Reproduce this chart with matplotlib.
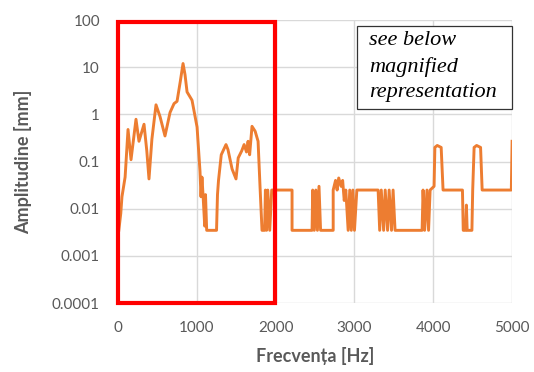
import numpy as np
import matplotlib
matplotlib.use("Agg")
import matplotlib.pyplot as plt
from matplotlib.patches import Rectangle

# frequency [Hz] and amplitude [mm]
H = 0.025   # upper plateau in the 2000-5000 Hz range
L = 0.0035  # lower plateau
freq = [10, 35, 50, 90, 127, 165, 228, 266, 330, 365, 393, 430, 482, 533, 596,
        660, 711, 749, 790, 825, 850, 876, 939, 1003, 1040, 1053, 1065, 1080,
        1100, 1110, 1125, 1250, 1262, 1275, 1310, 1370, 1395, 1447, 1497, 1525,
        1570, 1600, 1630, 1650, 1670, 1700, 1740, 1777, 1802, 1827, 1860, 1870,
        1885, 1900, 1925, 1950, 1970,
        2000, 2208, 2208, 2462, 2470, 2490, 2510, 2530, 2550, 2570, 2730, 2730,
        2760, 2780, 2800, 2830, 2850, 2870, 2890, 2920, 2940, 2960, 2980, 3000,
        3030, 3300, 3320, 3340, 3370, 3390, 3420, 3440, 3470, 3490, 3515, 3858,
        3870, 3890, 3920, 3940, 3960, 4010, 4020, 4050, 4100, 4124, 4370, 4380,
        4410, 4420, 4430, 4490, 4500, 4518, 4550, 4600, 4620, 4990, 5000]
amp = [L, 0.008, 0.018, 0.047, 0.48, 0.11, 0.79, 0.27, 0.62, 0.17, 0.043, 0.3,
       1.6, 0.9, 0.35, 1.1, 1.7, 1.9, 5, 12, 7, 3, 2, 0.54, 0.063, 0.018, 0.047,
       0.018, 0.0043, 0.02, L, L, 0.02, 0.04, 0.14, 0.23, 0.18, 0.07, 0.043,
       0.12, 0.17, 0.23, 0.16, 0.27, 0.14, 0.56, 0.44, 0.27, 0.029, L, L, H,
       L, H, L, H, H,
       H, H, L, L, H, L, H, L, 0.03, L, L, H,
       0.04, H, 0.045, 0.03, 0.04, 0.015, H, L, H, L, H, L,
       H, H, L, H, L, H, L, H, L, H, L, L,
       H, L, H, L, H, 0.03, 0.2, 0.22, 0.2, H, H, L,
       L, 0.012, L, L, H, 0.2, 0.22, 0.2, H, H, 0.27]

xticks = [0, 1000, 2000, 3000, 4000, 5000]
yticks = [0.0001, 0.001, 0.01, 0.1, 1, 10, 100]
ytick_labels = ["0.0001", "0.001", "0.01", "0.1", "1", "10", "100"]
note_lines = ["see below", "magnified", "representation"]

plt.rcParams["font.family"] = ["Lato", "DejaVu Sans"]
grey = "#595959"

fig = plt.figure(figsize=(5.34, 3.72), dpi=100)
ax = fig.add_axes([0.221, 0.185, 0.738, 0.761])

ax.plot(freq, amp, color="#ED7D31", lw=2.1, solid_joinstyle="round")
ax.set_yscale("log")
ax.set_xlim(0, 5000)
ax.set_ylim(1e-4, 100)
ax.set_xticks(xticks)
ax.set_yticks(yticks)
ax.set_yticklabels(ytick_labels)
ax.minorticks_off()
ax.tick_params(length=0, pad=13, labelsize=11, colors=grey)
ax.grid(True, color="#d9d9d9", lw=1)
for s in ax.spines.values():
    s.set_visible(False)

ax.set_xlabel("Frecvența [Hz]", fontsize=13, fontweight="bold", color=grey)
ax.set_ylabel("Amplitudine [mm]", fontsize=13, fontweight="bold", color=grey)
ax.xaxis.set_label_coords(0.5, -0.155)
ax.yaxis.set_label_coords(-0.218, 0.5)

# red frame around the 0-2000 Hz part
ax.add_patch(Rectangle((0, 1e-4), 1990, 90 - 1e-4, fill=False,
                       edgecolor="#FF0000", lw=3, clip_on=False, zorder=5))

# note box
ax.add_patch(Rectangle((0.607, 0.686), 0.393, 0.293, transform=ax.transAxes,
                       facecolor="white", edgecolor="#333333", lw=0.9,
                       zorder=6, clip_on=False))
for txt, yb in zip(note_lines, [0.912, 0.816, 0.728]):
    ax.text(0.637, yb, txt, transform=ax.transAxes, va="baseline", ha="left",
            fontsize=16, style="italic", family="Liberation Serif",
            color="black", zorder=7)

fig.savefig("out.png", dpi=100)
